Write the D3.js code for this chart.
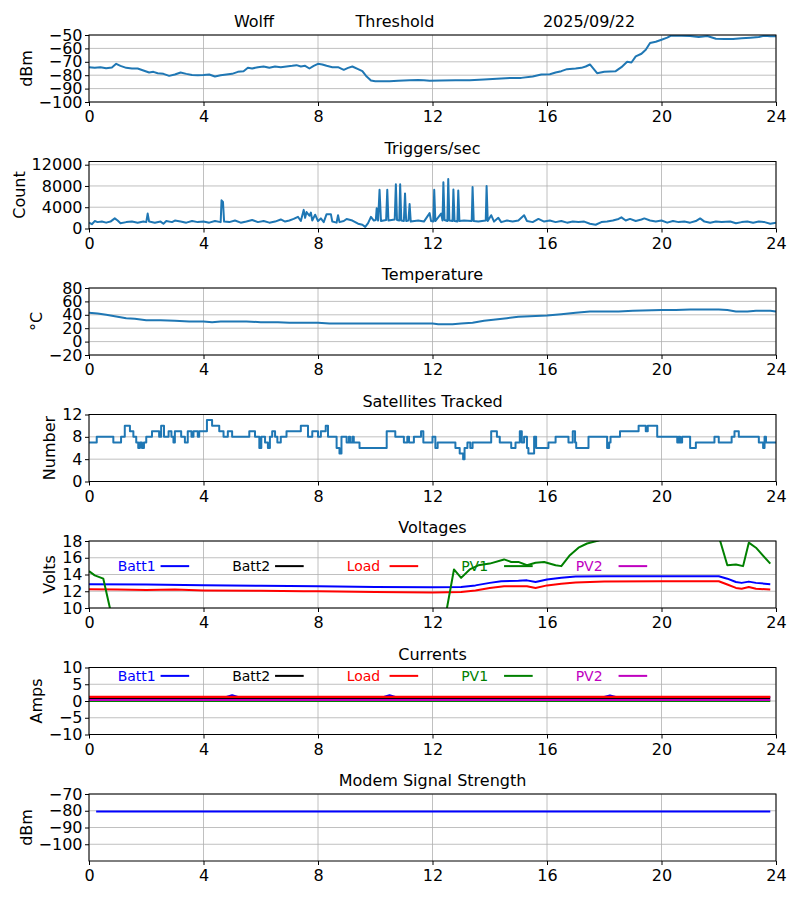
<!DOCTYPE html>
<html>
<head>
<meta charset="utf-8">
<script src="https://cdn.jsdelivr.net/npm/d3@7"></script>
<style>
  body { margin: 0; background: #fff; }
  text { font-family: "DejaVu Sans", sans-serif; }
</style>
</head>
<body>
<script>
var width = 800,
    height = 900,
    left = 89,
    right = 776,
    top0 = 35,
    step = 126.5,
    ph = 67,
    fs = "16px";

var hourTicks = [0, 4, 8, 12, 16, 20, 24];

// threshold, dBm
var threshold = [[0,-74],[0.2,-74.5],[0.4,-74],[0.6,-74.8],[0.8,-74.2],[0.95,-71.5],[1.1,-73],[1.3,-74.5],[1.5,-75],[1.7,-75],
  [1.9,-76.5],[2.1,-78],[2.25,-77.5],[2.4,-78.5],[2.6,-79],[2.8,-80.5],[3.0,-79.5],[3.2,-78],[3.4,-79],[3.6,-79.8],[3.8,-80],
  [4.0,-79.8],[4.2,-79.5],[4.4,-81],[4.6,-80],[4.8,-79.5],[5.0,-79],[5.2,-77.5],[5.4,-77],[5.55,-74.5],[5.7,-75],[5.9,-74],
  [6.1,-73.5],[6.3,-74.5],[6.5,-73.5],[6.7,-74],[6.9,-73.5],[7.1,-73],[7.25,-72.5],[7.4,-73.5],[7.55,-73],[7.7,-75],[7.85,-73],
  [8.0,-71.5],[8.15,-72],[8.3,-73],[8.5,-74],[8.7,-74],[8.9,-76],[9.05,-74.5],[9.2,-73.5],[9.4,-75.5],[9.55,-77],[9.7,-81],
  [9.85,-84],[10.0,-84.5],[10.5,-84.5],[10.8,-84.2],[11.0,-84],[11.2,-83.8],[11.5,-83.5],[11.7,-83.8],[11.9,-84.2],[12.3,-84],
  [12.8,-83.8],[13.3,-83.7],[13.8,-83.2],[14.4,-82.4],[14.8,-82],[15.1,-82],[15.5,-81],[15.8,-79.5],[16.1,-79.3],[16.3,-78],
  [16.5,-77],[16.7,-75.5],[17.0,-75],[17.2,-74.5],[17.35,-73.5],[17.5,-72],[17.75,-78.5],[18.0,-77.5],[18.4,-77],[18.6,-74],
  [18.8,-70],[18.95,-70.5],[19.1,-66],[19.3,-64],[19.45,-61],[19.6,-56],[19.8,-55],[20.0,-53.5],[20.2,-52],[20.35,-50.3],
  [20.7,-50.5],[21.0,-50.7],[21.3,-51.5],[21.6,-50.8],[21.9,-52.8],[22.2,-53],[22.5,-53],[22.8,-52.5],[23.1,-52],[23.4,-51.5],
  [23.6,-50.5],[23.8,-51],[24,-51]];

// triggers per second
var triggers = [[0,1100],[0.1,800],[0.2,1400],[0.3,1200],[0.45,1300],[0.6,1100],[0.75,1300],[0.9,1900],[1.0,1500],[1.1,1000],
  [1.3,1200],[1.5,1300],[1.7,1100],[1.9,1300],[2.0,1200],[2.05,2800],[2.1,1300],[2.3,1100],[2.5,1300],[2.6,900],[2.7,1400],
  [2.9,1200],[3.0,1500],[3.2,1300],[3.4,1100],[3.6,1400],[3.8,1200],[4.0,1300],[4.2,1100],[4.4,1400],[4.6,1200],[4.63,5300],
  [4.68,5000],[4.72,1300],[4.9,1200],[5.1,1500],[5.3,1100],[5.5,1300],[5.7,1600],[5.9,1200],[6.1,1400],[6.3,1100],[6.5,1300],
  [6.7,1700],[6.85,1300],[7.0,1500],[7.15,1800],[7.3,2200],[7.4,1400],[7.5,3500],[7.55,2000],[7.6,3100],[7.7,2400],[7.75,3000],
  [7.8,1500],[7.9,2600],[8.0,1400],[8.1,1900],[8.2,1200],[8.3,2700],[8.45,2700],[8.5,1300],[8.65,1100],[8.7,2500],[8.75,1200],
  [8.9,1400],[9.0,1800],[9.2,1500],[9.4,900],[9.55,700],[9.65,300],[9.75,1000],[9.85,2200],[9.95,1500],[10.02,1600],[10.05,3800],
  [10.1,1500],[10.15,7300],[10.2,1400],[10.38,1600],[10.42,7300],[10.46,1500],[10.68,1700],[10.72,8300],[10.76,1600],[10.84,1500],
  [10.87,8300],[10.91,1500],[11.0,1400],[11.04,6600],[11.08,1400],[11.16,1500],[11.2,4600],[11.24,1300],[11.5,1500],[11.7,1300],
  [11.9,2900],[11.95,1400],[12.03,1300],[12.06,7300],[12.1,1400],[12.3,2800],[12.35,1500],[12.38,8700],[12.42,1600],[12.52,1400],
  [12.55,9300],[12.59,1500],[12.7,1400],[12.73,7350],[12.77,1400],[12.87,1300],[12.9,7150],[12.94,1400],[13.1,1500],[13.37,1400],
  [13.4,7800],[13.44,1400],[13.6,1300],[13.86,1500],[13.89,8000],[13.93,1400],[14.05,2500],[14.15,1300],[14.3,2000],[14.4,1200],
  [14.6,1500],[14.8,1300],[15.0,1500],[15.2,2500],[15.3,1400],[15.5,1200],[15.7,1800],[15.9,1300],[16.1,1500],[16.3,1200],
  [16.5,1400],[16.7,1100],[16.9,1300],[17.1,1200],[17.3,1300],[17.5,900],[17.7,700],[17.9,1200],[18.1,1300],[18.3,1500],
  [18.5,1800],[18.6,2100],[18.75,1500],[18.9,1800],[19.1,1400],[19.3,1700],[19.4,1900],[19.6,1500],[19.8,1300],[20.0,1500],
  [20.2,1100],[20.4,1400],[20.6,1200],[20.8,1300],[21.0,1100],[21.2,1400],[21.35,1900],[21.5,1300],[21.7,1100],[21.9,1300],
  [22.1,1200],[22.4,1300],[22.6,1000],[22.8,1200],[23.0,1300],[23.2,1100],[23.4,1300],[23.6,1200],[23.8,900],[24,1100]];

// temperature, degC
var temperature = [[0,43],[0.3,42],[0.6,40],[1.0,37],[1.3,35],[1.6,34],[2.0,32],[2.5,32],[3.0,31],[3.5,30],[4.0,30],[4.3,29],
  [4.6,30],[5.5,30],[6.0,29],[6.6,29],[7.0,28],[8.0,28],[8.4,27],[12.0,27],[12.2,26],[12.7,26],[13.0,27],[13.4,28],[13.8,31],
  [14.2,33],[14.6,35],[15.0,37],[15.4,38],[16.0,39],[16.5,41],[17.0,43],[17.5,45],[18.5,45],[19.0,46],[20.0,47],[20.5,47],
  [21.0,48],[22.0,48],[22.3,47],[22.6,45],[23.0,45],[23.3,46],[23.8,46],[24,45]];

// satellites tracked (value holds until next point)
var satellites = [[0,7],[0.27,8],[0.85,7],[1.12,8],[1.25,10],[1.43,9],[1.55,8],[1.65,7],[1.72,6],[1.78,7],[1.85,6],[1.92,7],
  [2.0,8],[2.2,9],[2.45,8],[2.52,10],[2.62,8],[2.78,9],[2.88,8],[2.95,7],[3.0,9],[3.22,8],[3.35,7],[3.45,9],[3.58,8],[3.65,9],
  [3.8,8],[3.85,9],[4.12,11],[4.3,10],[4.55,9],[4.7,8],[4.85,9],[5.0,8],[5.6,9],[5.8,8],[5.95,6],[6.02,8],[6.15,7],[6.25,6],
  [6.32,8],[6.4,9],[6.5,8],[6.58,7],[6.7,8],[6.9,9],[7.4,10],[7.65,8],[7.8,9],[8.0,8],[8.1,9],[8.27,10],[8.35,8],[8.65,6],
  [8.75,5],[8.82,8],[9.0,7],[9.08,8],[9.12,7],[9.2,8],[9.25,7],[9.45,6],[10.4,9],[10.7,8],[11.0,7],[11.12,8],[11.18,7],[11.35,8],
  [11.6,9],[11.68,7],[12.0,8],[12.1,6],[12.18,7],[12.8,6],[12.95,5],[13.07,4],[13.12,6],[13.22,7],[13.32,6],[13.4,7],[14.05,9],
  [14.25,8],[14.35,7],[14.75,6],[14.9,7],[15.05,9],[15.12,7],[15.2,8],[15.3,6],[15.35,5],[15.55,8],[15.62,6],[16.05,7],[16.3,8],
  [16.75,7],[16.9,9],[16.98,7],[17.02,6],[17.45,8],[18.1,6],[18.17,7],[18.22,8],[18.55,9],[19.2,10],[19.45,9],[19.52,10],
  [19.85,8],[20.55,7],[20.6,8],[20.65,7],[20.72,8],[21.0,6],[21.2,7],[21.85,8],[22.0,7],[22.45,8],[22.55,9],[22.7,8],[23.4,7],
  [23.55,6],[23.6,8],[23.65,7],[24,7]];

// voltages
var batt1V = [[0,12.85],[2,12.8],[4,12.72],[6,12.65],[8,12.6],[10,12.52],[12,12.48],[13,12.5],[13.5,12.7],[14,13.0],[14.4,13.2],
  [15,13.25],[15.3,13.3],[15.6,13.1],[16,13.4],[16.5,13.6],[17,13.75],[18,13.78],[20,13.8],[22,13.8],[22.3,13.5],[22.6,13.1],
  [22.8,13.0],[23.05,13.15],[23.3,13.0],[23.8,12.85]];
var batt2V = [];
var loadV = [[0,12.25],[1,12.2],[2,12.15],[3,12.2],[4,12.1],[6,12.05],[7.5,12.0],[8,12.0],[10,11.9],[12,11.85],[13,11.9],
  [13.5,12.1],[14,12.4],[14.5,12.6],[15.3,12.6],[15.6,12.4],[16,12.7],[16.5,12.9],[17,13.05],[18,13.15],[20,13.2],[22,13.2],
  [22.3,12.8],[22.6,12.4],[22.8,12.3],[23.05,12.5],[23.3,12.3],[23.8,12.2]];
var pv1V = [[0,14.4],[0.2,13.9],[0.5,13.5],[0.75,9.7],[1,0],[12.25,0],[12.5,9.9],[12.75,14.6],[13,13.6],[13.3,14.6],[13.6,15.1],
  [14,15.3],[14.5,15.8],[14.75,15.5],[15,15.5],[15.3,15.1],[15.6,15.4],[15.9,15.5],[16.3,15.1],[16.5,15.0],[16.8,16.3],
  [17.1,17.2],[17.4,17.7],[17.8,18.05],[18.5,19.5],[21,19.5],[21.8,19],[22.05,18],[22.3,15.1],[22.6,15.2],[22.85,15.0],
  [23.05,17.8],[23.3,17.2],[23.8,15.3]];
var pv2V = [];

// currents
var batt1I = [[0,1.2],[4.8,1.2],[5.0,1.7],[5.2,1.2],[10.3,1.2],[10.5,1.7],[10.7,1.2],[18.0,1.2],[18.2,1.65],[18.4,1.2],[23.8,1.2]];
var batt2I = [[0,0.75],[23.8,0.75]];
var loadI = [[0,1.25],[23.8,1.25]];
var pv1I = [[0,0],[23.8,0]];
var pv2I = [[0,0.3],[23.8,0.3]];

// modem
var modem = [[0.25,-80.5],[23.8,-80.5]];

var legendNames = ["Batt1", "Batt2", "Load", "PV1", "PV2"];
var legendHours = [1, 5, 9, 13, 17];
var seriesColors = ["#0000ff", "#000000", "#ff0000", "#008000", "#bf00bf"];

var svg = d3.select("body").append("svg")
    .attr("width", width)
    .attr("height", height)
    .style("background", "#fff");

var x = d3.scaleLinear().domain([0, 24]).range([left, right]);

function panel(i, domain, ticks, label, title) {
  var top = top0 + i * step;
  var y = d3.scaleLinear().domain(domain).range([top + ph, top]);
  var g = svg.append("g");

  // grid
  g.append("g").selectAll("line").data(hourTicks).enter().append("line")
      .attr("x1", d => x(d)).attr("x2", d => x(d))
      .attr("y1", top).attr("y2", top + ph)
      .attr("stroke", "#b0b0b0").attr("stroke-width", 0.8);
  g.append("g").selectAll("line").data(ticks).enter().append("line")
      .attr("x1", left).attr("x2", right)
      .attr("y1", d => y(d)).attr("y2", d => y(d))
      .attr("stroke", "#b0b0b0").attr("stroke-width", 0.8);

  var xa = g.append("g")
      .attr("transform", "translate(0," + (top + ph) + ")")
      .call(d3.axisBottom(x).tickValues(hourTicks).tickSize(4).tickPadding(5).tickFormat(d3.format("d")));
  var ya = g.append("g")
      .attr("transform", "translate(" + left + ",0)")
      .call(d3.axisLeft(y).tickValues(ticks).tickSize(4).tickPadding(2.5).tickFormat(d3.format("d")));
  [xa, ya].forEach(function(a) {
    a.select(".domain").remove();
    a.selectAll("text").attr("font-size", fs).attr("fill", "#000").style("font-family", "DejaVu Sans");
    a.selectAll("line").attr("stroke", "#000");
  });

  // y label sits just left of the widest tick label
  var bb = ya.node().getBBox();
  svg.append("text")
      .attr("transform", "translate(" + (left + bb.x - 7) + "," + (top + ph / 2) + ") rotate(-90)")
      .attr("text-anchor", "middle")
      .attr("font-size", fs)
      .text(label);

  if (title) {
    svg.append("text")
        .attr("x", (left + right) / 2)
        .attr("y", top - 8)
        .attr("text-anchor", "middle")
        .attr("font-size", fs)
        .text(title);
  }

  svg.append("clipPath").attr("id", "clip" + i)
    .append("rect").attr("x", left).attr("y", top).attr("width", right - left).attr("height", ph);

  var plot = svg.append("g").attr("clip-path", "url(#clip" + i + ")");

  return { top: top, y: y, g: g, plot: plot };
}

function frame(p) {
  svg.append("rect")
      .attr("x", left).attr("y", p.top)
      .attr("width", right - left).attr("height", ph)
      .attr("fill", "none").attr("stroke", "#000").attr("stroke-width", 1);
}

function drawLine(p, data, color, curve, w) {
  if (!data.length) return;
  var line = d3.line()
      .x(d => x(d[0]))
      .y(d => p.y(d[1]))
      .curve(curve || d3.curveLinear);
  p.plot.append("path")
      .datum(data)
      .attr("d", line)
      .attr("fill", "none")
      .attr("stroke", color)
      .attr("stroke-width", w || 2)
      .attr("stroke-linejoin", "round");
}

function legend(p, yv) {
  var lg = svg.append("g");
  legendNames.forEach(function(name, k) {
    var h = legendHours[k];
    lg.append("text")
        .attr("x", x(h)).attr("y", p.y(yv))
        .attr("dy", "0.35em")
        .attr("font-size", "14px")
        .attr("fill", seriesColors[k])
        .text(name);
    lg.append("line")
        .attr("x1", x(h + 1.5)).attr("x2", x(h + 2.5))
        .attr("y1", p.y(yv)).attr("y2", p.y(yv))
        .attr("stroke", seriesColors[k]).attr("stroke-width", 2);
  });
}

var blue = "#1f77b4";

// 1: threshold
var p1 = panel(0, [-100, -50], [-100, -90, -80, -70, -60, -50], "dBm", null);
drawLine(p1, threshold, blue);
frame(p1);
var head = [["Wolff", 254], ["Threshold", 395], ["2025/09/22", 589]];
head.forEach(function(h) {
  svg.append("text").attr("x", h[1]).attr("y", 27)
      .attr("text-anchor", "middle").attr("font-size", fs).text(h[0]);
});

// 2: triggers
var p2 = panel(1, [0, 12600], [0, 4000, 8000, 12000], "Count", "Triggers/sec");
drawLine(p2, triggers, blue);
frame(p2);

// 3: temperature
var p3 = panel(2, [-20, 80], [-20, 0, 20, 40, 60, 80], "°C", "Temperature");
drawLine(p3, temperature, blue);
frame(p3);

// 4: satellites
var p4 = panel(3, [0, 12], [0, 4, 8, 12], "Number", "Satellites Tracked");
drawLine(p4, satellites, blue, d3.curveStepAfter);
frame(p4);

// 5: voltages
var p5 = panel(4, [10, 18], [10, 12, 14, 16, 18], "Volts", "Voltages");
[batt1V, batt2V, loadV, pv1V, pv2V].forEach(function(s, k) { drawLine(p5, s, seriesColors[k]); });
legend(p5, 15);
frame(p5);

// 6: currents
var p6 = panel(5, [-10, 10], [-10, -5, 0, 5, 10], "Amps", "Currents");
[batt1I, batt2I, loadI, pv1I, pv2I].forEach(function(s, k) { drawLine(p6, s, seriesColors[k], null, 2.2); });
legend(p6, 7.5);
frame(p6);

// 7: modem
var p7 = panel(6, [-110, -70], [-100, -90, -80, -70], "dBm", "Modem Signal Strength");
drawLine(p7, modem, "#0000ff");
frame(p7);
</script>
</body>
</html>
